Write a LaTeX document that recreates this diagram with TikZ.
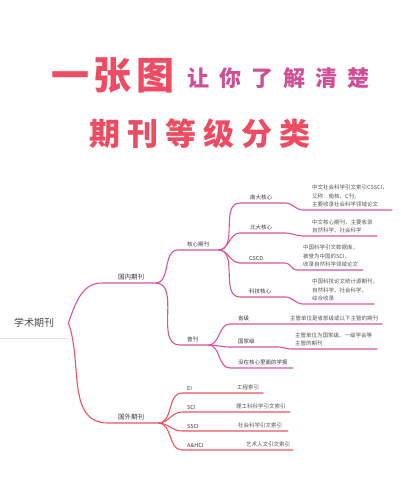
\documentclass[tikz,border=0pt]{standalone}
\usepackage{fontspec}
\newfontfamily\cjk{Noto Sans CJK SC}
\definecolor{titlered}{RGB}{238,76,98}
\definecolor{titlepink}{RGB}{208,78,150}
\definecolor{domline}{RGB}{214,84,158}
\definecolor{forline}{RGB}{234,84,100}
\definecolor{txtgray}{RGB}{55,55,55}
\tikzset{
  topic/.style={anchor=south west, inner xsep=0pt, inner ysep=2.5pt, text width=#1, align=left,
    font=\cjk\fontsize{5.5}{8.5}\selectfont, text=txtgray},
  major/.style={topic=#1, font=\cjk\fontsize{6.5}{8.5}\selectfont},
  note/.style={topic=#1, text=txtgray!85},
  dom/.style={draw=domline, line width=1.1pt},
  abroad/.style={draw=forline, line width=1.1pt},
}

\begin{document}
\begin{tikzpicture}[x=1pt,y=-1pt]
    \useasboundingbox (0,0) rectangle (400,480);
    % title
    \node[font=\cjk\bfseries\fontsize{38}{38}\selectfont, text=titlered] (tone) at (113,75) {一\hspace{5pt}张\hspace{5pt}图};
    \node[font=\cjk\bfseries\fontsize{22}{22}\selectfont, text=titlepink, anchor=west, inner sep=0pt] (ttwo) at (187,78) {让\hspace{10pt}你\hspace{10pt}了\hspace{10pt}解\hspace{10pt}清\hspace{10pt}楚};
    \node[font=\cjk\bfseries\fontsize{31}{31}\selectfont, text=titlered] (tthree) at (200,134) {期\hspace{7pt}刊\hspace{7pt}等\hspace{7pt}级\hspace{7pt}分\hspace{7pt}类};

    % root
    \node[font=\cjk\fontsize{10}{10}\selectfont, text=txtgray!90, minimum width=68pt, minimum height=30pt, inner sep=0pt, anchor=south west] (root) at (0,338) {学术期刊};
    \draw[black!12, line width=0.6pt] (root.south west) -- (root.south east);

    \node[major=37pt] (guonei) at (118,283) {国内期刊};
    \node[major=40pt] (guowai) at (118,423) {国外期刊};
    \node[topic=31pt] (hexin) at (187,250) {核心期刊};
    \node[topic=21pt] (pukan) at (187,345) {普刊};

    \node[topic=35pt] (nanda) at (250,203) {南大核心};
    \node[topic=35pt] (beida) at (250,233) {北大核心};
    \node[topic=36pt] (cscd) at (249,263) {CSCD};
    \node[topic=36pt] (keji) at (249,297) {科技核心};
    \node[note=80pt] (nandanote) at (312,210) {中文社会科学引文索引CSSCI，\\又称：南核、C刊，\\主要收录社会科学领域论文};
    \node[note=65pt] (beidanote) at (312,236) {中文核心期刊，主要收录\\自然科学、社会科学};
    \node[note=60pt] (cscdnote) at (303,270) {中国科学引文数据库，\\被誉为中国的SCI，\\收录自然科学领域论文};
    \node[note=62pt] (kejinote) at (312,304) {中国科技论文统计源期刊，\\自然科学、社会科学、\\综合收录};

    \node[topic=45pt] (shengji) at (238,324) {省级};
    \node[note=88pt] (shengjinote) at (290,324) {主管单位是省部级或以下主管的期刊};
    \node[topic=40pt] (guojia) at (238,347) {国家级};
    \node[note=82pt] (guojianote) at (295,349) {主管单位为国家级、一级学会等\\主管的期刊};
    \node[topic=50pt] (xuebao) at (238,368) {没在核心里面的学报};

    \node[topic=48pt] (ei) at (187,393) {EI};
    \node[note=22pt] (einote) at (237,393) {工程索引};
    \node[topic=47pt] (sci) at (187,412) {SCI};
    \node[note=50pt] (scinote) at (236,412) {理工科科学引文索引};
    \node[topic=49pt] (ssci) at (187,431) {SSCI};
    \node[note=44pt] (sscinote) at (238,431) {社会科学引文索引};
    \node[topic=57pt] (ahci) at (187,450) {A\&HCI};
    \node[note=44pt] (ahcinote) at (246,450) {艺术人文引文索引};

    % domestic branch
    \draw[dom] (root.east) to[out=70,in=180] ([xshift=-16pt]guonei.south west) -- (guonei.south east);
    \draw[dom] (guonei.south east) to[out=0,in=180] ([xshift=-9pt]hexin.south west) -- (hexin.south east);
    \draw[dom] (guonei.south east) to[out=0,in=180] ([xshift=-7pt]pukan.south west) -- (pukan.south east);
    \draw[dom] (hexin.south east) to[out=0,in=180] ([xshift=-10pt]nanda.south west) -- (nanda.south east)
        to[out=0,in=180] ([xshift=-9pt]nandanote.south west) -- (nandanote.south east);
    \draw[dom] (hexin.south east) to[out=0,in=180] ([xshift=-10pt]beida.south west) -- (beida.south east)
        to[out=0,in=180] ([xshift=-9pt]beidanote.south west) -- (beidanote.south east);
    \draw[dom] (hexin.south east) to[out=0,in=180] ([xshift=-9pt]cscd.south west) -- (cscd.south east)
        to[out=0,in=180] ([xshift=-6pt]cscdnote.south west) -- (cscdnote.south east);
    \draw[dom] (hexin.south east) to[out=0,in=180] ([xshift=-9pt]keji.south west) -- (keji.south east)
        to[out=0,in=180] ([xshift=-9pt]kejinote.south west) -- (kejinote.south east);
    \draw[dom] (pukan.south east) to[out=0,in=180] ([xshift=-8pt]shengji.south west) -- (shengji.south east)
        -- (shengjinote.south west) -- ([xshift=4pt]shengjinote.south east);
    \draw[dom] (pukan.south east) to[out=0,in=180] ([xshift=-8pt]guojia.south west) -- (guojia.south east)
        to[out=0,in=180] ([xshift=-4pt]guojianote.south west) -- (guojianote.south east);
    \draw[dom] (pukan.south east) to[out=0,in=180] ([xshift=-8pt]xuebao.south west) -- ([xshift=5pt]xuebao.south east);

    % foreign branch
    \draw[abroad] (root.east) to[out=-70,in=180] ([xshift=-10pt]guowai.south west) -- (guowai.south east);
    \draw[abroad] (guowai.south east) to[out=0,in=180] ([xshift=-5pt]ei.south west) -- (ei.south east)
        -- (einote.south west) -- ([xshift=4pt]einote.south east);
    \draw[abroad] (guowai.south east) to[out=0,in=180] ([xshift=-5pt]sci.south west) -- (sci.south east)
        -- (scinote.south west) -- ([xshift=4pt]scinote.south east);
    \draw[abroad] (guowai.south east) to[out=0,in=180] ([xshift=-5pt]ssci.south west) -- (ssci.south east)
        -- (sscinote.south west) -- ([xshift=6pt]sscinote.south east);
    \draw[abroad] (guowai.south east) to[out=0,in=180] ([xshift=-5pt]ahci.south west) -- (ahci.south east)
        -- (ahcinote.south west) -- ([xshift=3pt]ahcinote.south east);
\end{tikzpicture}
\end{document}
